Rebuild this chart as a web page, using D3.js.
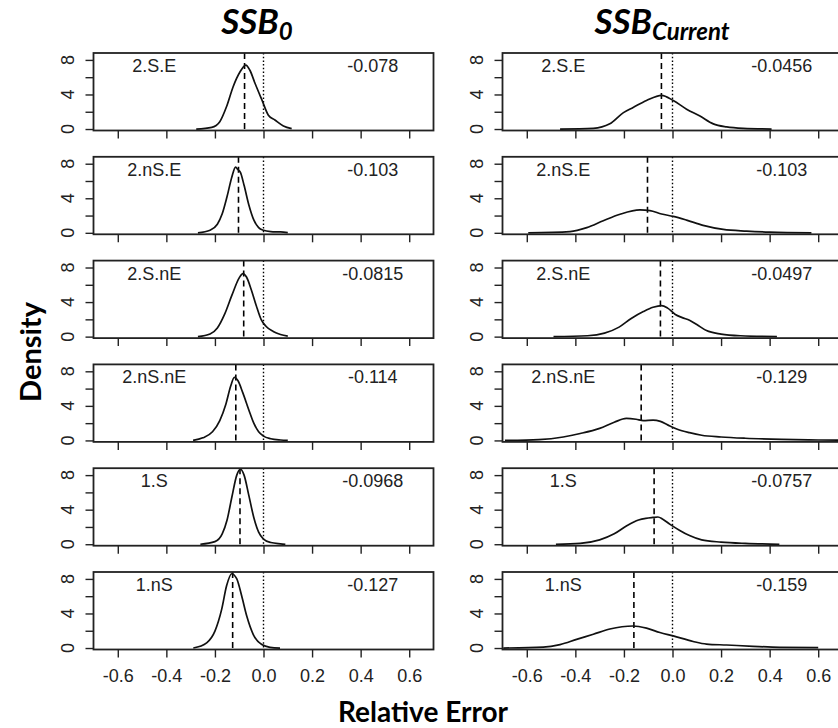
<!DOCTYPE html>
<html><head><meta charset="utf-8">
<script src="https://cdn.jsdelivr.net/npm/d3@7"></script>
<style>body{margin:0;background:#fff}svg{display:block}</style>
</head><body>
<script>
// ---- data ----
const scenarios = ["2.S.E","2.nS.E","2.S.nE","2.nS.nE","1.S","1.nS"];
const columns = ["SSB0","SSBCurrent"];
const xTicks = [-0.6,-0.4,-0.2,0.0,0.2,0.4,0.6];
const yTicks = [0,2,4,6,8];
const yTickLabels = [0,4,8];
// mean relative error (dashed line + label)
const meanSSB0 = [-0.078,-0.103,-0.0815,-0.114,-0.0968,-0.127];
const meanLabelSSB0 = ["-0.078","-0.103","-0.0815","-0.114","-0.0968","-0.127"];
const meanCur = [-0.0456,-0.103,-0.0497,-0.129,-0.0757,-0.159];
const meanLabelCur = ["-0.0456","-0.103","-0.0497","-0.129","-0.0757","-0.159"];
// density curves [relative error, density]
const densSSB0 = [
 [[-0.277,0],[-0.213,0.2],[-0.18,0.85],[-0.152,2.6],[-0.125,4.9],[-0.097,6.6],[-0.073,7.4],[-0.056,6.8],[-0.035,5.3],[-0.007,3.4],[0.02,1.6],[0.047,1.04],[0.082,0.35],[0.116,0.04]],
 [[-0.27,0],[-0.22,0.3],[-0.19,1.0],[-0.17,2.2],[-0.15,4.2],[-0.13,6.5],[-0.115,7.6],[-0.105,7.3],[-0.095,7.0],[-0.08,5.5],[-0.06,3.2],[-0.04,1.5],[-0.02,0.6],[0.0,0.3],[0.03,0.15],[0.07,0.1],[0.1,0.02]],
 [[-0.27,0],[-0.22,0.3],[-0.19,1.0],[-0.16,2.6],[-0.13,4.8],[-0.1,6.8],[-0.085,7.3],[-0.07,6.9],[-0.05,5.4],[-0.03,3.6],[-0.01,2.0],[0.01,1.2],[0.04,0.6],[0.07,0.25],[0.1,0.05]],
 [[-0.29,0],[-0.25,0.3],[-0.21,1.0],[-0.18,2.3],[-0.155,4.2],[-0.135,6.3],[-0.12,7.3],[-0.105,6.9],[-0.085,5.5],[-0.06,3.5],[-0.04,2.0],[-0.02,1.0],[0.0,0.5],[0.03,0.2],[0.07,0.05],[0.1,0]],
 [[-0.26,0],[-0.2,0.3],[-0.17,1.2],[-0.15,2.8],[-0.13,5.5],[-0.11,8.0],[-0.095,8.7],[-0.08,8.0],[-0.06,5.6],[-0.04,3.1],[-0.02,1.4],[0.0,0.6],[0.03,0.2],[0.07,0.05],[0.09,0]],
 [[-0.289,0],[-0.234,0.6],[-0.2,1.95],[-0.172,4.5],[-0.152,7.2],[-0.131,8.6],[-0.11,8.0],[-0.09,6.05],[-0.069,3.7],[-0.042,1.56],[-0.007,0.4],[0.027,0.08],[0.068,0]]
];
const densCur = [
 [[-0.463,0],[-0.326,0.08],[-0.258,0.6],[-0.202,1.9],[-0.162,2.5],[-0.107,3.3],[-0.045,3.9],[0.003,3.3],[0.058,2.3],[0.113,1.5],[0.168,0.6],[0.223,0.25],[0.291,0.08],[0.408,0]],
 [[-0.594,0],[-0.422,0.15],[-0.353,0.6],[-0.285,1.4],[-0.216,2.15],[-0.134,2.65],[-0.093,2.57],[-0.045,2.18],[0.003,1.9],[0.058,1.47],[0.126,0.87],[0.209,0.4],[0.305,0.2],[0.4,0.08],[0.572,0]],
 [[-0.49,0],[-0.35,0.1],[-0.28,0.4],[-0.22,1.1],[-0.17,2.1],[-0.12,2.9],[-0.08,3.4],[-0.045,3.6],[-0.02,3.3],[0.01,2.6],[0.04,2.2],[0.07,1.9],[0.1,1.4],[0.14,0.7],[0.2,0.3],[0.28,0.1],[0.43,0]],
 [[-0.69,0],[-0.55,0.1],[-0.45,0.4],[-0.38,0.8],[-0.3,1.4],[-0.24,2.1],[-0.19,2.55],[-0.15,2.45],[-0.12,2.3],[-0.08,2.35],[-0.05,2.2],[-0.02,1.8],[0.02,1.3],[0.07,0.9],[0.12,0.6],[0.2,0.4],[0.3,0.25],[0.45,0.12],[0.6,0.05],[0.7,0.02]],
 [[-0.48,0],[-0.38,0.1],[-0.3,0.5],[-0.24,1.2],[-0.19,2.1],[-0.14,2.8],[-0.11,3.0],[-0.08,3.1],[-0.06,3.15],[-0.04,2.9],[-0.01,2.3],[0.03,1.6],[0.07,1.0],[0.12,0.5],[0.2,0.25],[0.3,0.1],[0.44,0]],
 [[-0.697,0],[-0.532,0.1],[-0.463,0.4],[-0.395,1.0],[-0.326,1.6],[-0.258,2.2],[-0.162,2.55],[-0.107,2.3],[-0.052,1.8],[0.003,1.4],[0.085,0.76],[0.14,0.46],[0.223,0.35],[0.332,0.2],[0.442,0.08],[0.6,0.04]]
];

// ---- layout ----
const W = 838, H = 728;
const colX = [93.5, 502.5], boxW = 340;
const rowTop0 = 53, rowStep = 103.8, boxH = 77.5;
const tickFont = "'Liberation Sans', Arial, Helvetica, sans-serif";
const headFont = "Lato, 'Open Sans', sans-serif";
const fs = 18;

const svg = d3.select("body").append("svg").attr("width", W).attr("height", H);

const cols = [
  {dens: densSSB0, mean: meanSSB0, lab: meanLabelSSB0},
  {dens: densCur, mean: meanCur, lab: meanLabelCur}
];

const line = (x, y) => d3.line().x(d => x(d[0])).y(d => y(d[1])).curve(d3.curveMonotoneX);

cols.forEach((c, ci) => {
  const x = d3.scaleLinear().domain([-0.7, 0.7]).range([colX[ci], colX[ci] + boxW]);
  scenarios.forEach((sc, ri) => {
    const top = rowTop0 + ri * rowStep;
    const y = d3.scaleLinear().domain([-0.17, 8.8]).range([top + boxH, top]);
    const g = svg.append("g");
    const cid = `clip${ci}_${ri}`;
    svg.append("clipPath").attr("id", cid).append("rect")
      .attr("x", colX[ci]).attr("y", top).attr("width", boxW).attr("height", boxH);
    const inner = g.append("g").attr("clip-path", `url(#${cid})`);
    inner.append("line").attr("x1", x(0)).attr("x2", x(0)).attr("y1", top).attr("y2", top + boxH)
      .attr("stroke", "#000").attr("stroke-width", 1.4).attr("stroke-dasharray", "1.5,2.2");
    inner.append("line").attr("x1", x(c.mean[ri])).attr("x2", x(c.mean[ri])).attr("y1", top).attr("y2", top + boxH)
      .attr("stroke", "#000").attr("stroke-width", 1.6).attr("stroke-dasharray", "6,4");
    inner.append("path").datum(c.dens[ri]).attr("d", line(x, y))
      .attr("fill", "none").attr("stroke", "#111").attr("stroke-width", 1.7);
    g.append("rect").attr("x", colX[ci]).attr("y", top).attr("width", boxW).attr("height", boxH)
      .attr("fill", "none").attr("stroke", "#222").attr("stroke-width", 1.8);
    const xa = g.append("g").attr("transform", `translate(0,${top + boxH})`)
      .call(d3.axisBottom(x).tickValues(xTicks).tickSize(8).tickFormat(d3.format(".1f")));
    xa.select(".domain").remove();
    xa.selectAll("line").attr("stroke", "#222").attr("stroke-width", 1.4);
    xa.selectAll("text").attr("font-family", tickFont).attr("font-size", fs).attr("fill", "#222")
      .attr("dy", "1.2em").text(d => d3.format(".1f")(d).replace("\u2212", "-"));
    if (ri !== scenarios.length - 1) xa.selectAll("text").remove();
    const ya = g.append("g").attr("transform", `translate(${colX[ci]},0)`)
      .call(d3.axisLeft(y).tickValues(yTicks).tickSize(8).tickFormat(""));
    ya.select(".domain").remove();
    ya.selectAll("line").attr("stroke", "#222").attr("stroke-width", 1.4);
    yTickLabels.forEach(v => {
      g.append("text").attr("transform", `translate(${colX[ci] - 26},${y(v)}) rotate(-90)`)
        .attr("text-anchor", "middle").attr("dominant-baseline", "central")
        .attr("font-family", tickFont).attr("font-size", fs).attr("fill", "#222").text(v);
    });
    g.append("text").attr("x", x(-0.45)).attr("y", top + 19).attr("text-anchor", "middle")
      .attr("font-family", tickFont).attr("font-size", fs).attr("fill", "#222").text(sc);
    g.append("text").attr("x", x(0.45)).attr("y", top + 19).attr("text-anchor", "middle")
      .attr("font-family", tickFont).attr("font-size", fs).attr("fill", "#222").text(c.lab[ri]);
  });
});

// column titles
const t0 = svg.append("text").attr("x", 257).attr("y", 34).attr("text-anchor", "middle")
  .attr("font-family", headFont).attr("font-weight", "bold").attr("font-style", "italic").attr("font-size", 35);
t0.append("tspan").text("SSB");
t0.append("tspan").attr("font-size", 24).attr("dy", 6).text("0");
const t1 = svg.append("text").attr("x", 662).attr("y", 34).attr("text-anchor", "middle")
  .attr("font-family", headFont).attr("font-weight", "bold").attr("font-style", "italic").attr("font-size", 35);
t1.append("tspan").text("SSB");
t1.append("tspan").attr("font-size", 24).attr("dy", 6).text("Current");

svg.append("text").attr("transform", "translate(41,352) rotate(-90)").attr("text-anchor", "middle")
  .attr("font-family", headFont).attr("font-weight", "bold").attr("font-size", 29).text("Density");
svg.append("text").attr("x", 423).attr("y", 722).attr("text-anchor", "middle")
  .attr("font-family", headFont).attr("font-weight", "bold").attr("font-size", 28).text("Relative Error");
</script>
</body></html>
